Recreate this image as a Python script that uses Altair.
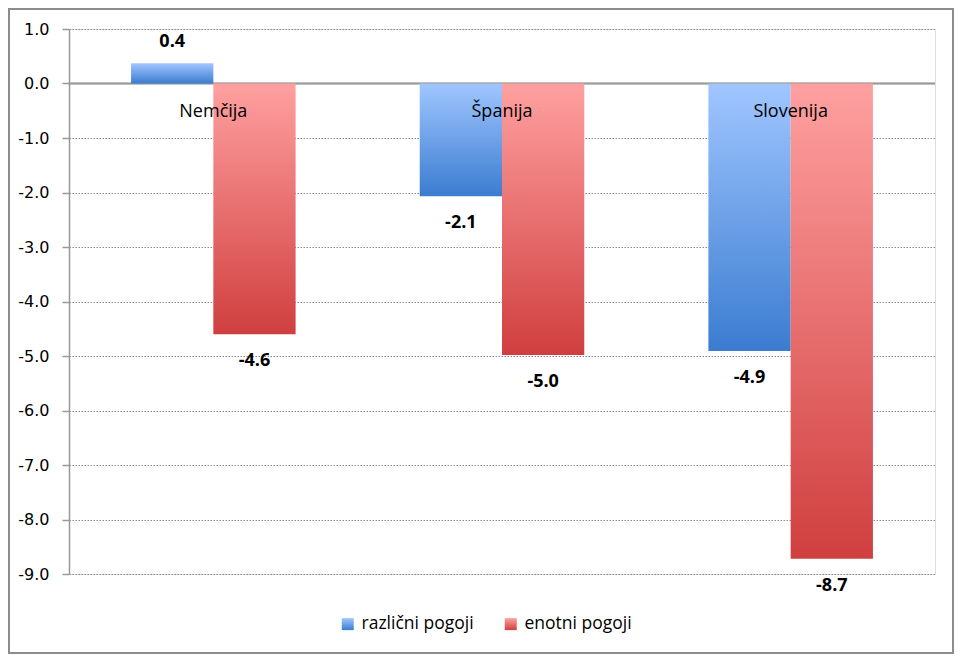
import altair as alt
import pandas as pd

categories = ["Nemčija", "Španija", "Slovenija"]
series = ["različni pogoji", "enotni pogoji"]
razlicni = [0.37, -2.07, -4.91]
enotni = [-4.6, -4.98, -8.72]
y_ticks = [1.0, 0.0, -1.0, -2.0, -3.0, -4.0, -5.0, -6.0, -7.0, -8.0, -9.0]

rows = []
for i, c in enumerate(categories):
    rows.append({"kategorija": c, "serija": series[0], "vrednost": razlicni[i]})
    rows.append({"kategorija": c, "serija": series[1], "vrednost": enotni[i]})
df = pd.DataFrame(rows)
cat_df = pd.DataFrame({"kategorija": categories})

blue_grad = ("{gradient: 'linear', x1: 0, y1: 0, x2: 0, y2: 1, "
             "stops: [{offset: 0, color: '#A0C6FF'}, {offset: 1, color: '#3B7CD0'}]}")
red_grad = ("{gradient: 'linear', x1: 0, y1: 0, x2: 0, y2: 1, "
            "stops: [{offset: 0, color: '#FFA0A0'}, {offset: 1, color: '#D03F3F'}]}")

x_enc = alt.X("kategorija:N", sort=categories,
              scale=alt.Scale(paddingInner=0.43, paddingOuter=0.215), axis=None)
xo_enc = alt.XOffset("serija:N", sort=series, scale=alt.Scale(domain=series))
y_scale = alt.Scale(domain=[-9, 1], nice=False, zero=False)

base = alt.Chart(df)

frame = alt.Chart(cat_df).mark_rect(
    fill=None, stroke="#8c8c8c", strokeWidth=2, clip=False
).encode(
    x=alt.value(-60), x2=alt.value(884), y=alt.value(-20), y2=alt.value(624)
)

zero_rule = alt.Chart(cat_df).mark_rule(color="#999999", strokeWidth=1.5).encode(
    y=alt.Y(datum=0, scale=y_scale)
)

bars = base.mark_bar().encode(
    x=x_enc,
    xOffset=xo_enc,
    y=alt.Y("vrednost:Q", scale=y_scale,
            axis=alt.Axis(values=y_ticks, format=".1f", title=None, grid=True,
                          gridDash=[1.5, 1.5], gridColor="#8a8a8a", gridWidth=1,
                          domainColor="#999999", domainWidth=1.5,
                          tickColor="#999999", tickSize=7, tickWidth=1.5,
                          labelFont="DejaVu Sans", labelFontSize=16,
                          labelColor="#000000", labelPadding=13)),
    y2=alt.Y2(datum=0),
    fill=alt.Fill("serija:N",
                  scale=alt.Scale(domain=series,
                                  range=[alt.ExprRef(expr=blue_grad),
                                         alt.ExprRef(expr=red_grad)]),
                  legend=alt.Legend(title=None, orient="none", legendX=270, legendY=586,
                                    direction="horizontal", symbolType="square",
                                    symbolSize=144, symbolStrokeWidth=0,
                                    labelFont="Open Sans", labelFontSize=17.5,
                                    labelColor="#000000", labelOffset=5,
                                    columnPadding=28)),
)

pos_labels = base.transform_filter(alt.datum.vrednost >= 0).mark_text(
    font="Open Sans", fontSize=18, fontWeight="bold", color="#000000",
    baseline="middle", dy=-21
).encode(x=x_enc, xOffset=xo_enc, y=alt.Y("vrednost:Q", scale=y_scale),
         text=alt.Text("vrednost:Q", format=".1f"))

neg_labels = base.transform_filter(alt.datum.vrednost < 0).mark_text(
    font="Open Sans", fontSize=18, fontWeight="bold", color="#000000",
    baseline="middle", dy=27
).encode(x=x_enc, xOffset=xo_enc, y=alt.Y("vrednost:Q", scale=y_scale),
         text=alt.Text("vrednost:Q", format=".1f"))

cat_labels = alt.Chart(cat_df).mark_text(
    font="Open Sans", fontSize=18, color="#000000", baseline="middle", dy=28
).encode(x=x_enc, y=alt.Y(datum=0, scale=y_scale), text="kategorija:N")

chart = alt.layer(frame, zero_rule, bars, pos_labels, neg_labels, cat_labels).properties(
    width=866, height=545,
    autosize=alt.AutoSizeParams(type="none"),
    padding={"left": 61, "top": 21, "right": 19, "bottom": 80},
).configure_view(stroke=None).configure(
    locale=alt.Locale(number=alt.NumberLocale(decimal=".", thousands=",", grouping=[3],
                                              currency=["$", ""], minus="-"))
)

chart.save("out.html", embed_options={"renderer": "svg", "actions": False})
